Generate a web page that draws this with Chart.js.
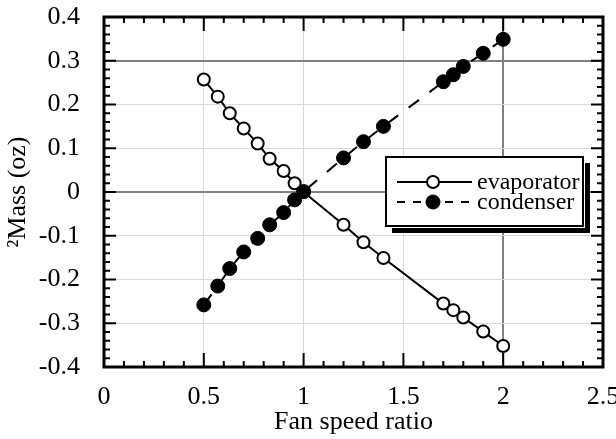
<!DOCTYPE html>
<html>
<head>
<meta charset="utf-8">
<script src="https://cdn.jsdelivr.net/npm/chart.js@4"></script>
<style>
  html, body { margin: 0; padding: 0; background: #fff; }
  #wrap { width: 616px; height: 439px; }
</style>
</head>
<body>
<div id="wrap"><canvas id="chart" width="616" height="439"></canvas></div>
<script>
// Values
const fanSpeedRatio = [0.5, 0.57, 0.63, 0.7, 0.77, 0.83, 0.9, 0.955, 1.0, 1.2, 1.3, 1.4, 1.7, 1.75, 1.8, 1.9, 2.0];
const evaporatorMass = [0.257, 0.218, 0.18, 0.145, 0.111, 0.076, 0.048, 0.02, 0.0, -0.075, -0.115, -0.151, -0.255, -0.27, -0.287, -0.319, -0.352];
const condenserMass = [-0.258, -0.215, -0.175, -0.137, -0.106, -0.075, -0.047, -0.018, 0.001, 0.078, 0.115, 0.15, 0.252, 0.268, 0.287, 0.317, 0.349];

const seriesNames = ["evaporator", "condenser"];
const xTitle = "Fan speed ratio";
const yTitle = "\u00B2Mass (oz)";

const FONT_FAMILY = "'Liberation Serif', 'Times New Roman', serif";
const DARK_GRID = "#808080";
const LIGHT_GRID = "#d9d9d9";

function toPoints(xs, ys) {
  return xs.map((x, i) => ({ x: x, y: ys[i] }));
}

function near(a, b) {
  return Math.abs(a - b) < 1e-9;
}

function line(ctx, x1, y1, x2, y2) {
  ctx.beginPath();
  ctx.moveTo(x1, y1);
  ctx.lineTo(x2, y2);
  ctx.stroke();
}

//
// Frame with inward ticks on all four sides
//

const framePlugin = {
  id: "frame",
  afterDatasetsDraw(chart) {
    const { ctx, chartArea: a, scales } = chart;
    ctx.save();
    ctx.strokeStyle = "#000";
    ctx.lineWidth = 2;

    for (let i = 0; i <= 25; i++) {
      const px = scales.x.getPixelForValue(i / 10);
      const len = i % 5 === 0 ? 14 : 6;
      line(ctx, px, a.bottom, px, a.bottom - len);
      line(ctx, px, a.top, px, a.top + len);
    }

    for (let i = -20; i <= 20; i++) {
      const py = scales.y.getPixelForValue(i / 50);
      const len = i % 5 === 0 ? 12 : 6;
      line(ctx, a.left, py, a.left + len, py);
      line(ctx, a.right, py, a.right - len, py);
    }

    ctx.lineWidth = 3;
    ctx.strokeRect(a.left, a.top, a.right - a.left, a.bottom - a.top);
    ctx.restore();
  },
};

//
// Boxed legend with drop shadow inside the plot
//

const legendBoxPlugin = {
  id: "legendBox",
  afterDraw(chart) {
    const ctx = chart.ctx;
    const x = 386, y = 157, w = 197, h = 69;
    ctx.save();

    ctx.fillStyle = "#000";
    ctx.fillRect(x + 6, y + 6, w + 1, h + 1);
    ctx.fillStyle = "#fff";
    ctx.fillRect(x, y, w + 2, h + 2);
    ctx.strokeStyle = "#000";
    ctx.lineWidth = 2;
    ctx.strokeRect(x, y, w, h);

    const rows = [y + 25, y + 45];
    chart.data.datasets.forEach((ds, i) => {
      const ry = rows[i];
      ctx.strokeStyle = ds.borderColor;
      ctx.lineWidth = ds.borderWidth;
      ctx.setLineDash(ds.borderDash ? [8, 8] : []);
      line(ctx, x + 11, ry, x + 86, ry);
      ctx.setLineDash([]);

      ctx.beginPath();
      ctx.arc(x + 47, ry, ds.pointRadius, 0, Math.PI * 2);
      ctx.fillStyle = ds.pointBackgroundColor;
      ctx.fill();
      ctx.lineWidth = ds.pointBorderWidth;
      ctx.strokeStyle = ds.pointBorderColor;
      ctx.stroke();

      ctx.fillStyle = "#000";
      ctx.font = "24px " + FONT_FAMILY;
      ctx.textAlign = "left";
      ctx.textBaseline = "middle";
      ctx.fillText(ds.label, x + 91, ry + 1);
    });

    ctx.restore();
  },
};

const tickFont = { family: FONT_FAMILY, size: 26 };

new Chart(document.getElementById("chart").getContext("2d"), {
  type: "scatter",
  data: {
    datasets: [
      {
        label: seriesNames[0],
        data: toPoints(fanSpeedRatio, evaporatorMass),
        showLine: true,
        borderColor: "#000",
        borderWidth: 2,
        pointRadius: 6,
        pointBorderWidth: 2,
        pointBorderColor: "#000",
        pointBackgroundColor: "#fff",
        order: 2,
      },
      {
        label: seriesNames[1],
        data: toPoints(fanSpeedRatio, condenserMass),
        showLine: true,
        borderColor: "#000",
        borderWidth: 2,
        borderDash: [13, 13],
        pointRadius: 7,
        pointBorderWidth: 1,
        pointBorderColor: "#000",
        pointBackgroundColor: "#000",
        order: 1,
      },
    ],
  },
  options: {
    responsive: false,
    animation: false,
    layout: { padding: { left: 0, right: 13, top: 17, bottom: 0 } },
    plugins: {
      legend: { display: false },
      tooltip: { enabled: false },
    },
    scales: {
      x: {
        type: "linear",
        min: 0,
        max: 2.5,
        ticks: {
          stepSize: 0.5,
          color: "#000",
          font: tickFont,
          padding: 15,
          maxRotation: 0,
          callback: (v) => String(parseFloat(v.toFixed(1))),
        },
        grid: {
          drawTicks: false,
          color: (c) => (c.tick && near(c.tick.value, 2) ? DARK_GRID : LIGHT_GRID),
          lineWidth: (c) => (c.tick && near(c.tick.value, 2) ? 2 : 1),
        },
        border: { display: false },
        title: {
          display: true,
          text: xTitle,
          color: "#000",
          font: tickFont,
          padding: { top: 0, bottom: 1 },
        },
        afterFit: (scale) => {
          scale.height = 72;
          scale.paddingLeft = 0;
          scale.paddingRight = 0;
        },
      },
      y: {
        type: "linear",
        min: -0.4,
        max: 0.4,
        ticks: {
          stepSize: 0.1,
          color: "#000",
          font: tickFont,
          padding: 24,
          callback: (v) => String(parseFloat(v.toFixed(1))),
        },
        grid: {
          drawTicks: false,
          color: (c) =>
            c.tick && (near(c.tick.value, 0.3) || near(c.tick.value, 0)) ? DARK_GRID : LIGHT_GRID,
          lineWidth: (c) =>
            c.tick && (near(c.tick.value, 0.3) || near(c.tick.value, 0)) ? 2 : 1,
        },
        border: { display: false },
        title: {
          display: true,
          text: yTitle,
          color: "#000",
          font: tickFont,
          padding: { top: 3, bottom: 0 },
        },
        afterFit: (scale) => {
          scale.width = 104;
          scale.paddingTop = 0;
          scale.paddingBottom = 0;
        },
      },
    },
  },
  plugins: [framePlugin, legendBoxPlugin],
});
</script>
</body>
</html>
